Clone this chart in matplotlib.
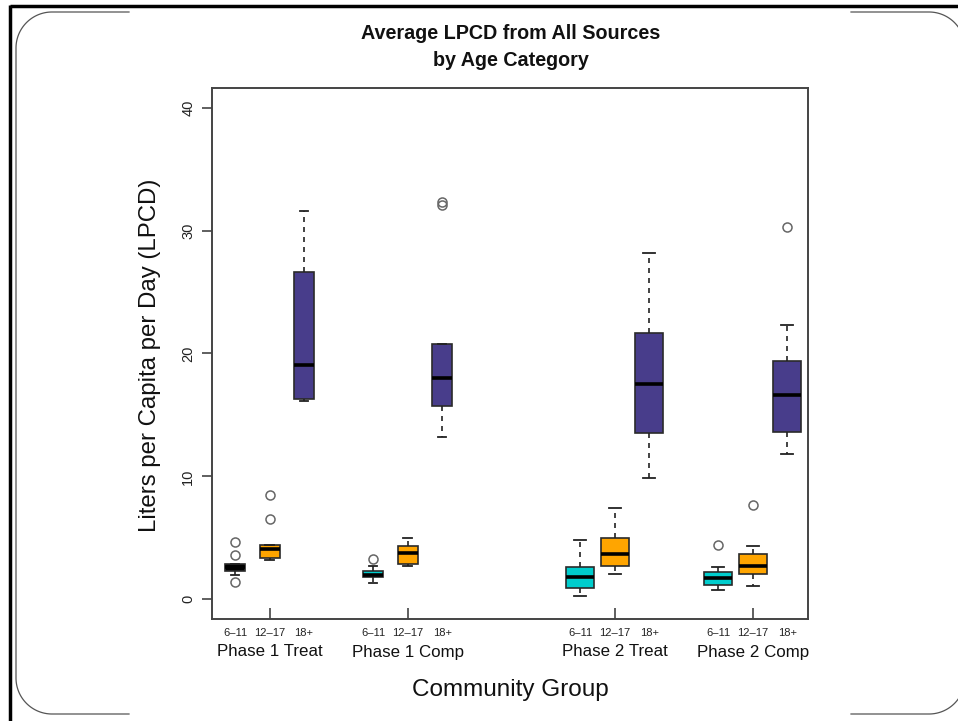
import numpy as np
import matplotlib.pyplot as plt
from matplotlib.patches import Rectangle
import matplotlib.transforms as mtransforms

plt.rcParams['font.family'] = ['Liberation Sans', 'DejaVu Sans']

# Box statistics per community group and age category
groups = ["Phase 1 Treat", "Phase 1 Comp", "Phase 2 Treat", "Phase 2 Comp"]
ages = ["6–11", "12–17", "18+"]

q1 = [2.3, 3.4, 16.3, 1.8, 2.9, 15.7, 0.9, 2.7, 13.5, 1.15, 2.05, 13.6]
med = [2.6, 4.1, 19.1, 2.0, 3.8, 18.0, 1.85, 3.65, 17.5, 1.7, 2.7, 16.6]
q3 = [2.9, 4.4, 26.6, 2.3, 4.3, 20.8, 2.6, 5.0, 21.7, 2.2, 3.65, 19.4]
whislo = [1.95, 3.2, 16.1, 1.3, 2.7, 13.2, 0.3, 2.05, 9.9, 0.75, 1.05, 11.85]
whishi = [2.9, 4.4, 31.6, 2.75, 4.95, 20.8, 4.85, 7.4, 28.2, 2.6, 4.3, 22.3]
fliers = [[1.4, 3.6, 4.7], [6.5, 8.45], [], [3.3], [], [32.1, 32.3],
          [], [], [], [4.4], [7.7], [30.3]]

positions = [1, 2, 3, 5, 6, 7, 11, 12, 13, 15, 16, 17]
widths = [0.58] * 6 + [0.8] * 6
age_colors = ["#00CDCD", "#FFA500", "#483D8B"]
fills = [age_colors[i % 3] for i in range(12)]
fills[0] = "black"

fig = plt.figure(figsize=(9.58, 7.21), dpi=100)

# slide background: rounded frame, right side runs off the page
bg = fig.add_axes([0, 0, 1, 1], zorder=0)
bg.set_xlim(0, 958)
bg.set_ylim(721, 0)
bg.axis('off')


def arc(cx, cy, r, a0, a1):
    t = np.radians(np.linspace(a0, a1, 40))
    return cx + r * np.cos(t), cy - r * np.sin(t)


r = 36
left, top, bottom, right = 16, 12, 714, 965
frame_kw = dict(color="#555555", lw=0.9)
x, y = arc(left + r, top + r, r, 90, 180)
bg.plot(np.r_[129, x, left, left, arc(left + r, bottom - r, r, 180, 270)[0], 129],
        np.r_[top, y, top + r, bottom - r, arc(left + r, bottom - r, r, 180, 270)[1], bottom],
        **frame_kw)
x, y = arc(right - r, top + r, r, 90, 0)
bg.plot(np.r_[851, x], np.r_[top, y], **frame_kw)
x, y = arc(right - r, bottom - r, r, 270, 360)
bg.plot(np.r_[851, x], np.r_[bottom, y], **frame_kw)

bg.add_patch(Rectangle((129, 8), 722, 713, fc="white", ec="none"))
bg.plot([10, 958], [6, 6], color="black", lw=2.5, solid_capstyle='butt')
bg.plot([10.5, 10.5], [5, 721], color="black", lw=2.5, solid_capstyle='butt')

ax = fig.add_axes([212 / 958, 1 - 619 / 721, 596 / 958, 531 / 721], zorder=1)

stats = []
for i in range(12):
    stats.append(dict(q1=q1[i], med=med[i], q3=q3[i], whislo=whislo[i],
                      whishi=whishi[i], fliers=fliers[i]))

bp = ax.bxp(stats, positions=positions, widths=widths,
            capwidths=[w * 0.42 for w in widths],
            patch_artist=True, showfliers=True,
            boxprops=dict(edgecolor="#2a2a2a", linewidth=1.2),
            medianprops=dict(color="black", linewidth=2.6, solid_capstyle='butt'),
            whiskerprops=dict(color="#222222", linewidth=1.2, linestyle=(0, (3, 3))),
            capprops=dict(color="#222222", linewidth=1.3),
            flierprops=dict(marker='o', markerfacecolor='none',
                            markeredgecolor='#666666', markersize=6.5,
                            markeredgewidth=1.1))
for patch, c in zip(bp['boxes'], fills):
    patch.set_facecolor(c)

ax.set_xlim(0.333, 17.6)
ax.set_ylim(-1.6, 41.6)

for s in ax.spines.values():
    s.set_color("#444444")
    s.set_linewidth(1.4)

ax.set_yticks([0, 10, 20, 30, 40])
ax.set_yticklabels(["0", "10", "20", "30", "40"], rotation=90, va='center',
                   fontsize=10.5, color="#222222")
ax.tick_params(axis='y', direction='out', length=7, width=1.2,
               color="#444444", pad=5)

# ticks only under the middle box of each group, pointing inward
ax.set_xticks([2, 6, 12, 16])
ax.set_xticklabels([])
ax.tick_params(axis='x', direction='in', length=8, width=1.2, color="#444444")

trans = mtransforms.blended_transform_factory(ax.transData, fig.transFigure)
for i, p in enumerate(positions):
    ax.text(p, 1 - 633 / 721, ages[i % 3], transform=trans, ha='center',
            va='center', fontsize=8, color="#222222")
for g, name in enumerate(groups):
    ax.text(positions[g * 3 + 1], 1 - 652 / 721, name, transform=trans,
            ha='center', va='center', fontsize=12.2, color="#111111")

fig.text(510 / 958, 1 - 690 / 721, "Community Group", ha='center',
         va='center', fontsize=17.5, color="#111111")
fig.text(150 / 958, 1 - 355 / 721, "Liters per Capita per Day (LPCD)",
         rotation=90, ha='center', va='center', fontsize=17.3, color="#111111")
fig.text(511 / 958, 1 - 47 / 721, "Average LPCD from All Sources\nby Age Category",
         ha='center', va='center', fontsize=14.2, fontweight='bold',
         linespacing=1.55, color="#111111")

fig.savefig("out.png", dpi=100)
